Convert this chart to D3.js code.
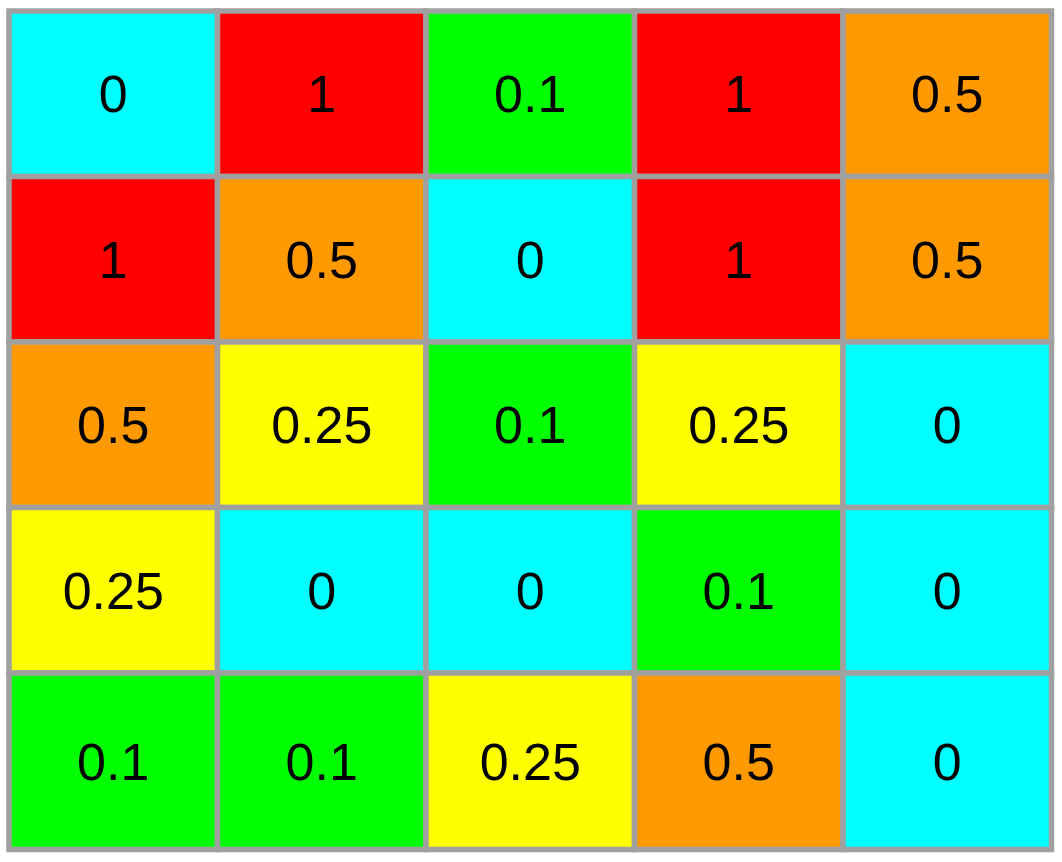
<!DOCTYPE html>
<html>
<head>
<meta charset="utf-8">
<script src="https://cdn.jsdelivr.net/npm/d3@7"></script>
<style>
html,body{margin:0;padding:0;background:#fff;}
svg{display:block;}
</style>
</head>
<body>
<svg id="chart" width="1062" height="862"></svg>
<script>
const rows = ["r1","r2","r3","r4","r5"];
const cols = ["c1","c2","c3","c4","c5"];
const row1 = [0, 1, 0.1, 1, 0.5];
const row2 = [1, 0.5, 0, 1, 0.5];
const row3 = [0.5, 0.25, 0.1, 0.25, 0];
const row4 = [0.25, 0, 0, 0.1, 0];
const row5 = [0.1, 0.1, 0.25, 0.5, 0];
const levels = [0, 0.1, 0.25, 0.5, 1];
const levelColors = ["#00ffff", "#00ff00", "#ffff00", "#ff9900", "#ff0000"];

const values = [row1, row2, row3, row4, row5];
const cells = [];
values.forEach((r, i) => r.forEach((v, j) => cells.push({row: rows[i], col: cols[j], v})));

const svg = d3.select("#chart");
const x = d3.scaleBand().domain(cols).range([9, 1051.5]).padding(0);
const y = d3.scaleBand().domain(rows).range([11, 838.5]).padding(0);
const bottom = 849.5;
const color = d3.scaleOrdinal().domain(levels).range(levelColors);
const rowH = d => d.row === rows[rows.length - 1] ? bottom - y(d.row) : y.bandwidth();

const g = svg.selectAll("g.cell").data(cells).join("g").attr("class", "cell");
g.append("rect")
  .attr("x", d => x(d.col))
  .attr("y", d => y(d.row))
  .attr("width", x.bandwidth())
  .attr("height", d => rowH(d))
  .attr("fill", d => color(d.v))
  .attr("stroke", "#a0a0a0")
  .attr("stroke-width", 5.5);
g.append("text")
  .attr("x", d => x(d.col) + x.bandwidth() / 2)
  .attr("y", d => y(d.row) + rowH(d) / 2 + 18.5)
  .attr("text-anchor", "middle")
  .attr("font-family", "Liberation Sans, Arial, sans-serif")
  .attr("font-size", 52)
  .attr("fill", "#000")
  .text(d => String(d.v));
</script>
</body>
</html>
